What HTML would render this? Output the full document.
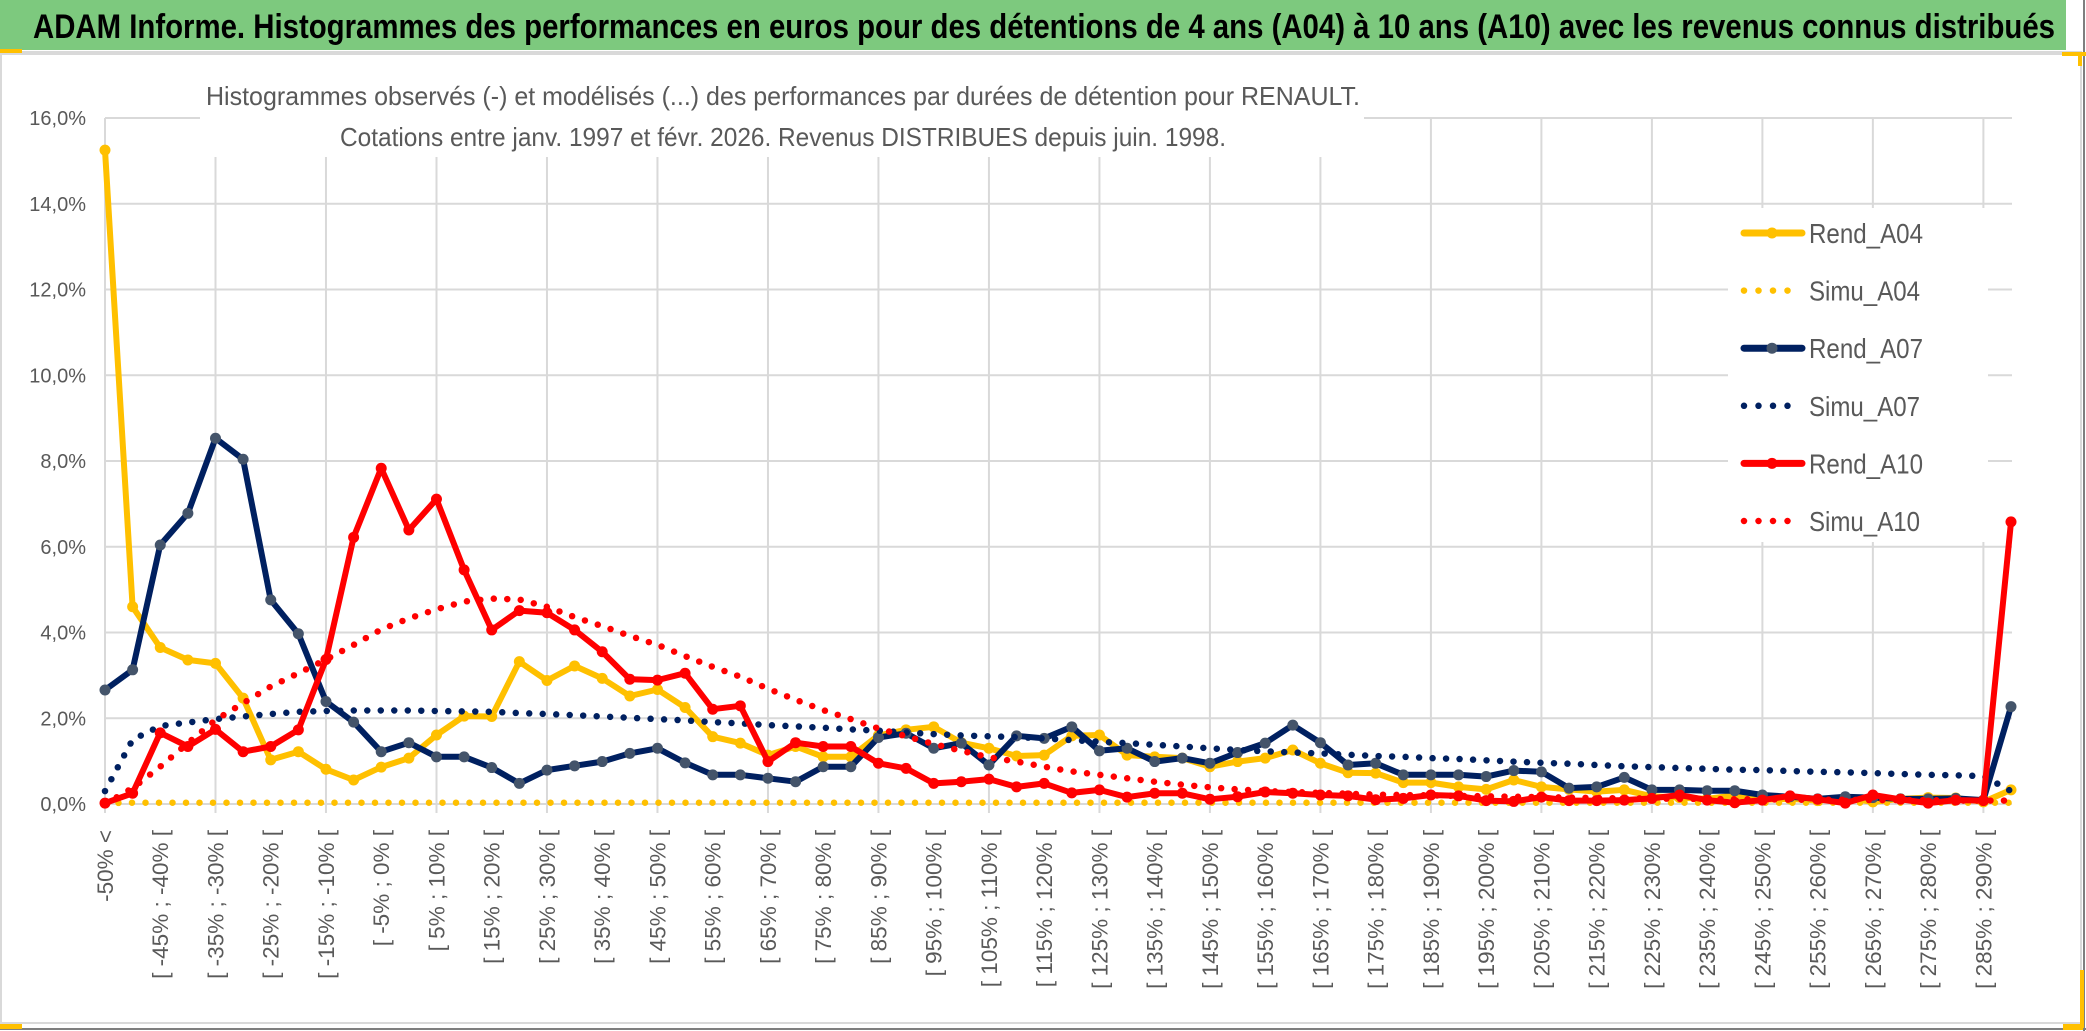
<!DOCTYPE html>
<html>
<head>
<meta charset="utf-8">
<style>
html,body{margin:0;padding:0;background:#fff;}
body{width:2086px;height:1031px;overflow:hidden;position:relative;}
svg{display:block;}
.narrow{font-family:"Liberation Sans Narrow","Liberation Sans",sans-serif;}
.lab{font-family:"Liberation Sans",sans-serif;}
</style>
</head>
<body>
<svg id="chart" width="2086" height="1031" viewBox="0 0 2086 1031" xmlns="http://www.w3.org/2000/svg">
  <rect x="0" y="0" width="2086" height="1031" fill="#fff"/>
  <rect x="1" y="52" width="2080" height="971" fill="none" stroke="#D9D9D9" stroke-width="2"/>
  <line x1="0" y1="1029" x2="2086" y2="1029" stroke="#7F7F7F" stroke-width="2"/>
  <line x1="2084" y1="0" x2="2084" y2="1031" stroke="#7F7F7F" stroke-width="2"/>
  <rect x="0" y="0" width="2066" height="50" fill="#7DC97E"/>
  <line x1="0" y1="54" x2="2066" y2="54" stroke="#D9D9D9" stroke-width="2"/>
  <rect x="0" y="49" width="22" height="4" fill="#FFC000"/>
  <rect x="2062" y="52" width="24" height="4" fill="#FFC000"/>
  <rect x="2078" y="52" width="4" height="14" fill="#FFC000"/>
  <rect x="2063" y="1024" width="20" height="6" fill="#FFC000"/>
  <rect x="2080" y="970" width="4" height="58" fill="#FFC000"/>
  <rect x="0" y="1024" width="22" height="5" fill="#FFC000"/>
  <text x="33" y="38" class="narrow" font-weight="bold" font-size="34" fill="#000" textLength="2022" lengthAdjust="spacingAndGlyphs">ADAM Informe. Histogrammes des performances en euros pour des détentions de 4 ans (A04) à 10 ans (A10) avec les revenus connus distribués</text>
  <g id="grid"></g>
  <rect x="200" y="58" width="1164" height="99" fill="#fff"/>
  <text x="783" y="105" text-anchor="middle" class="narrow" font-size="26" fill="#595959" textLength="1154" lengthAdjust="spacingAndGlyphs">Histogrammes observés (-) et modélisés (...) des performances par durées de détention pour RENAULT.</text>
  <text x="783" y="146" text-anchor="middle" class="narrow" font-size="26" fill="#595959" textLength="886" lengthAdjust="spacingAndGlyphs">Cotations entre janv. 1997 et févr. 2026. Revenus DISTRIBUES depuis juin. 1998.</text>
  <g id="yaxis"></g>
  <g id="xaxis"></g>
  <rect x="1728" y="208" width="260" height="334" fill="#fff"/>
  <g id="series"></g>
  <g id="legend"></g>
</svg>
<script>
const categories = ["-50% <","[ -50% ; -45% [","[ -45% ; -40% [","[ -40% ; -35% [","[ -35% ; -30% [","[ -30% ; -25% [","[ -25% ; -20% [","[ -20% ; -15% [","[ -15% ; -10% [","[ -10% ; -5% [","[ -5% ; 0% [","[ 0% ; 5% [","[ 5% ; 10% [","[ 10% ; 15% [","[ 15% ; 20% [","[ 20% ; 25% [","[ 25% ; 30% [","[ 30% ; 35% [","[ 35% ; 40% [","[ 40% ; 45% [","[ 45% ; 50% [","[ 50% ; 55% [","[ 55% ; 60% [","[ 60% ; 65% [","[ 65% ; 70% [","[ 70% ; 75% [","[ 75% ; 80% [","[ 80% ; 85% [","[ 85% ; 90% [","[ 90% ; 95% [","[ 95% ; 100% [","[ 100% ; 105% [","[ 105% ; 110% [","[ 110% ; 115% [","[ 115% ; 120% [","[ 120% ; 125% [","[ 125% ; 130% [","[ 130% ; 135% [","[ 135% ; 140% [","[ 140% ; 145% [","[ 145% ; 150% [","[ 150% ; 155% [","[ 155% ; 160% [","[ 160% ; 165% [","[ 165% ; 170% [","[ 170% ; 175% [","[ 175% ; 180% [","[ 180% ; 185% [","[ 185% ; 190% [","[ 190% ; 195% [","[ 195% ; 200% [","[ 200% ; 205% [","[ 205% ; 210% [","[ 210% ; 215% [","[ 215% ; 220% [","[ 220% ; 225% [","[ 225% ; 230% [","[ 230% ; 235% [","[ 235% ; 240% [","[ 240% ; 245% [","[ 245% ; 250% [","[ 250% ; 255% [","[ 255% ; 260% [","[ 260% ; 265% [","[ 265% ; 270% [","[ 270% ; 275% [","[ 275% ; 280% [","[ 280% ; 285% [","[ 285% ; 290% [","> 290%"];
const rendA04 = [15.25,4.60,3.65,3.36,3.28,2.47,1.03,1.22,0.81,0.56,0.86,1.07,1.61,2.05,2.04,3.32,2.88,3.22,2.93,2.52,2.67,2.25,1.57,1.42,1.14,1.34,1.10,1.10,1.60,1.73,1.80,1.43,1.30,1.12,1.14,1.59,1.61,1.14,1.10,1.07,0.87,0.99,1.07,1.26,0.95,0.73,0.72,0.50,0.50,0.40,0.34,0.56,0.40,0.34,0.29,0.33,0.18,0.15,0.12,0.20,0.10,0.12,0.08,0.15,0.05,0.12,0.15,0.14,0.05,0.33];
const simuA04 = [0.02,0.03,0.03,0.03,0.03,0.03,0.03,0.03,0.03,0.03,0.03,0.03,0.03,0.03,0.03,0.03,0.03,0.03,0.03,0.03,0.03,0.03,0.03,0.03,0.03,0.03,0.03,0.03,0.03,0.03,0.03,0.03,0.03,0.03,0.03,0.03,0.03,0.03,0.03,0.03,0.03,0.03,0.03,0.03,0.03,0.03,0.03,0.03,0.03,0.03,0.03,0.03,0.03,0.03,0.03,0.03,0.03,0.03,0.03,0.03,0.03,0.03,0.03,0.03,0.03,0.03,0.03,0.03,0.03,0.03];
const rendA07 = [2.66,3.13,6.04,6.78,8.53,8.04,4.76,3.97,2.39,1.91,1.22,1.43,1.10,1.10,0.85,0.48,0.79,0.89,0.99,1.18,1.30,0.96,0.68,0.68,0.60,0.52,0.87,0.87,1.55,1.65,1.30,1.42,0.91,1.59,1.53,1.80,1.24,1.30,0.99,1.07,0.95,1.20,1.42,1.84,1.43,0.91,0.95,0.68,0.68,0.68,0.64,0.78,0.75,0.37,0.40,0.62,0.33,0.33,0.31,0.31,0.21,0.17,0.12,0.17,0.15,0.12,0.12,0.13,0.09,2.27];
const simuA07 = [0.30,1.50,1.82,1.90,1.98,2.04,2.10,2.15,2.17,2.18,2.18,2.18,2.17,2.16,2.15,2.12,2.10,2.07,2.04,2.01,1.98,1.95,1.91,1.88,1.84,1.81,1.78,1.74,1.71,1.67,1.63,1.60,1.58,1.56,1.53,1.49,1.45,1.42,1.38,1.34,1.30,1.26,1.23,1.20,1.18,1.15,1.12,1.10,1.07,1.05,1.02,0.99,0.96,0.94,0.91,0.88,0.86,0.84,0.82,0.80,0.79,0.77,0.75,0.74,0.72,0.70,0.68,0.67,0.65,0.30];
const rendA10 = [0.02,0.25,1.66,1.34,1.74,1.22,1.34,1.73,3.37,6.22,7.83,6.39,7.11,5.46,4.06,4.51,4.46,4.06,3.55,2.91,2.89,3.05,2.21,2.29,0.99,1.43,1.34,1.34,0.95,0.83,0.48,0.52,0.58,0.40,0.48,0.26,0.33,0.16,0.25,0.25,0.11,0.17,0.28,0.25,0.21,0.19,0.10,0.13,0.21,0.19,0.08,0.06,0.16,0.08,0.08,0.09,0.13,0.21,0.09,0.03,0.09,0.19,0.11,0.02,0.21,0.11,0.02,0.09,0.08,6.58];
const simuA10 = [0.00,0.37,0.87,1.42,1.96,2.35,2.74,3.05,3.37,3.71,4.07,4.33,4.54,4.72,4.79,4.77,4.60,4.36,4.15,3.92,3.71,3.45,3.20,2.97,2.69,2.43,2.19,1.98,1.76,1.58,1.40,1.24,1.09,0.99,0.87,0.76,0.68,0.60,0.52,0.45,0.39,0.34,0.30,0.28,0.26,0.24,0.22,0.21,0.20,0.19,0.18,0.17,0.16,0.15,0.14,0.13,0.13,0.12,0.12,0.11,0.11,0.10,0.10,0.10,0.09,0.09,0.09,0.08,0.08,0.08];
const yTicks = [0,2,4,6,8,10,12,14,16];
const yTickLabels = ["0,0%","2,0%","4,0%","6,0%","8,0%","10,0%","12,0%","14,0%","16,0%"];
const legendNames = ["Rend_A04","Simu_A04","Rend_A07","Simu_A07","Rend_A10","Simu_A10"];

const NS = "http://www.w3.org/2000/svg";
const X0 = 105, DX = (2011 - 105) / 69, Y0 = 804, PPU = (804 - 118) / 16, XR = 2012;
function xScale(i){ return X0 + DX * i; }
function yScale(v){ return Y0 - v * PPU; }
function mk(tag, attrs, parent){
  const el = document.createElementNS(NS, tag);
  for (const k in attrs) el.setAttribute(k, attrs[k]);
  parent.appendChild(el);
  return el;
}
const grid = document.getElementById('grid');
yTicks.forEach(function(t){
  const l = mk('line', {x1: X0, x2: XR, y1: yScale(t), y2: yScale(t), stroke: '#D9D9D9', 'stroke-width': 2}, grid);
  
  
});
for (let i = 0; i < categories.length; i += 4) {
  const l = mk('line', {x1: xScale(i), x2: xScale(i), y1: yScale(16), y2: Y0 + 9, stroke: '#D9D9D9', 'stroke-width': 2}, grid);
  
  
}
const yaxis = document.getElementById('yaxis');
yTicks.forEach(function(t, k){
  const tx = mk('text', {x: 86, y: yScale(t) + 7, 'text-anchor': 'end', 'font-size': 20, fill: '#595959', class: 'narrow'}, yaxis);
  tx.textContent = yTickLabels[k];
  
  
});
const xaxis = document.getElementById('xaxis');
categories.forEach(function(c, i){
  if (i % 2 !== 0) return;
  const x = xScale(i) + 8;
  const tx = mk('text', {x: x, y: 830, 'text-anchor': 'end', 'font-size': 22.5, fill: '#595959', class: 'lab', transform: 'rotate(-90 ' + x + ' 830)'}, xaxis);
  tx.textContent = c;
  
  
});
const series = document.getElementById('series');
function pts(arr){ return arr.map(function(v, i){ return xScale(i).toFixed(1) + ',' + yScale(v).toFixed(1); }).join(' '); }
function solid(arr, color, mcolor, name){
  const g = mk('g', {}, series);
  
  
  const pl = mk('polyline', {points: pts(arr), fill: 'none', stroke: color, 'stroke-width': 6, 'stroke-linejoin': 'round', 'stroke-linecap': 'round'}, g);
  
  
  arr.forEach(function(v, i){
    const c = mk('circle', {cx: xScale(i), cy: yScale(v), r: 5.5, fill: mcolor}, g);
    
    
  });
}
function dotted(arr, color, name){
  const pl = mk('polyline', {points: pts(arr), fill: 'none', stroke: color, 'stroke-width': 6.5, 'stroke-dasharray': '0 13.5', 'stroke-linecap': 'round', 'stroke-linejoin': 'round'}, series);
  
  
}
solid(rendA04, '#FFC000', '#FFC000', 'rend-a04');
dotted(simuA04, '#FFC000', 'simu-a04');
solid(rendA07, '#002060', '#44546A', 'rend-a07');
dotted(simuA07, '#002060', 'simu-a07');
solid(rendA10, '#FF0000', '#FF0000', 'rend-a10');
dotted(simuA10, '#FF0000', 'simu-a10');

const legend = document.getElementById('legend');
const legendStyles = [
  {c: '#FFC000', m: '#FFC000', dot: false},
  {c: '#FFC000', dot: true},
  {c: '#002060', m: '#44546A', dot: false},
  {c: '#002060', dot: true},
  {c: '#FF0000', m: '#FF0000', dot: false},
  {c: '#FF0000', dot: true}
];
legendNames.forEach(function(n, k){
  const y = 233 + k * 57.6;
  const s = legendStyles[k];
  const g = mk('g', {}, legend);
  
  
  if (s.dot) {
    mk('line', {x1: 1744, x2: 1800, y1: y, y2: y, stroke: s.c, 'stroke-width': 6.5, 'stroke-dasharray': '0 14.5', 'stroke-linecap': 'round'}, g);
  } else {
    mk('line', {x1: 1744, x2: 1802, y1: y, y2: y, stroke: s.c, 'stroke-width': 7, 'stroke-linecap': 'round'}, g);
    mk('circle', {cx: 1772, cy: y, r: 5.5, fill: s.m}, g);
  }
  const t = mk('text', {x: 1809, y: y + 10, 'font-size': 28, fill: '#595959', class: 'narrow', textLength: (n.charAt(0) === 'R' ? 114 : 111), lengthAdjust: 'spacingAndGlyphs'}, g);
  t.textContent = n;
});
</script>
</body>
</html>
